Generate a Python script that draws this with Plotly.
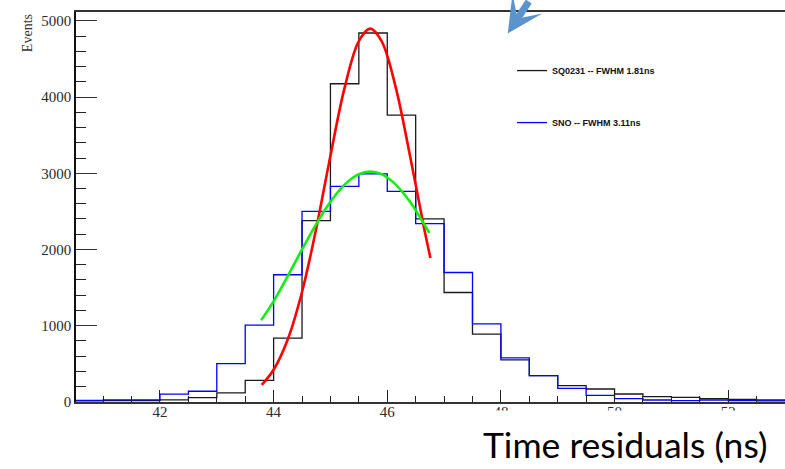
import plotly.graph_objects as go

# Histogram bins (left edges, ns), width 0.5
bin_edges = [40.5, 41.0, 41.5, 42.0, 42.5, 43.0, 43.5, 44.0, 44.5, 45.0, 45.5, 46.0, 46.5,
             47.0, 47.5, 48.0, 48.5, 49.0, 49.5, 50.0, 50.5, 51.0, 51.5, 52.0, 52.5, 53.0]
sq0231_counts = [10, 15, 15, 25, 53, 115, 281, 834, 2378, 4176, 4842, 3763, 2400,
                 1434, 887, 549, 342, 211, 167, 101, 66, 58, 40, 31, 22]
sno_counts = [18, 25, 25, 100, 137, 500, 1005, 1667, 2500, 2829, 2992, 2763, 2338,
              1697, 1022, 575, 342, 176, 84, 40, 22, 13, 22, 15, 10]

# Fit curves
red_fit_x = [43.79, 44.0, 44.25, 44.5, 44.75, 45.0, 45.25, 45.5, 45.7, 45.9, 46.15, 46.4, 46.65, 46.76]
red_fit_y = [220, 420, 821, 1441, 2276, 3231, 4125, 4736, 4900, 4736, 4125, 3231, 2276, 1886]
green_fit_x = [43.78, 44.0, 44.25, 44.5, 44.75, 45.0, 45.25, 45.5, 45.7, 45.9, 46.15, 46.4, 46.65, 46.74]
green_fit_y = [1070, 1318, 1653, 1999, 2332, 2626, 2851, 2988, 3022, 2988, 2851, 2626, 2332, 2216]

legend_names = ["SQ0231 -- FWHM 1.81ns", "SNO -- FWHM 3.11ns"]
x_tick_vals = [42, 44, 46, 48, 50, 52]
y_tick_vals = [0, 1000, 2000, 3000, 4000, 5000]

fig = go.Figure()

fig.add_trace(go.Scatter(
    x=bin_edges, y=sq0231_counts + [sq0231_counts[-1]], mode="lines",
    line=dict(color="#1a1a1a", width=1.3, shape="hv"),
    name=legend_names[0], legendgroup="a", hoverinfo="skip"))
fig.add_trace(go.Scatter(
    x=bin_edges, y=sno_counts + [sno_counts[-1]], mode="lines",
    line=dict(color="#0000ff", width=1.3, shape="hv"),
    name=legend_names[1], legendgroup="b", hoverinfo="skip"))
fig.add_trace(go.Scatter(
    x=red_fit_x, y=red_fit_y, mode="lines",
    line=dict(color="#ff0000", width=2.6, shape="spline"),
    showlegend=False))
fig.add_trace(go.Scatter(
    x=green_fit_x, y=green_fit_y, mode="lines",
    line=dict(color="#11ee11", width=2.6, shape="spline"),
    showlegend=False))

tick_font = dict(family="Liberation Serif", size=15, color="#2a2a2a")

fig.update_layout(
    width=785, height=469,
    margin=dict(l=76, r=0, t=12, b=67),
    paper_bgcolor="white", plot_bgcolor="white",
    showlegend=True,
    legend=dict(x=0.615, y=0.887, xanchor="left", yanchor="top",
                bgcolor="rgba(0,0,0,0)", borderwidth=0,
                tracegroupgap=33,
                font=dict(family="Liberation Sans", size=9, color="#111111", weight="bold")),
    xaxis=dict(range=[40.522, 53.0], showgrid=False, zeroline=False,
               showline=True, linecolor="#333333", linewidth=1.8, mirror=True,
               tickmode="array", tickvals=x_tick_vals,
               ticks="inside", ticklen=12, tickwidth=1.2, tickcolor="#222222",
               ticklabelstandoff=-5,
               minor=dict(dtick=0.5, ticks="inside", ticklen=6, tickwidth=1.2, tickcolor="#222222"),
               tickfont=tick_font),
    yaxis=dict(range=[-4, 5118], showgrid=False, zeroline=False,
               showline=True, linecolor="#111111", linewidth=1.6,
               tickmode="array", tickvals=y_tick_vals,
               ticks="inside", ticklen=21, tickwidth=1.4, tickcolor="#333333",
               minor=dict(dtick=200, ticks="inside", ticklen=10, tickwidth=1.2, tickcolor="#222222"),
               tickfont=tick_font),
)

# y-axis title (ROOT-style, at top of axis)
fig.add_annotation(text="Events", xref="paper", yref="paper",
                   x=-0.069, y=0.946, textangle=-90, showarrow=False,
                   xanchor="center", yanchor="middle",
                   font=dict(family="Liberation Serif", size=14, color="#333333"))

# x-axis title (large, slide-style, with white backing)
fig.add_annotation(text="Time residuals (ns)", xref="paper", yref="paper",
                   x=0.774, y=-0.108, showarrow=False,
                   xanchor="center", yanchor="middle",
                   bgcolor="white", borderpad=12,
                   font=dict(family="Lato", size=35.5, color="black"))

# blue pointer arrow from the slide
fig.add_annotation(text="", xref="paper", yref="paper",
                   x=0.609, y=0.945, ax=22, ay=-56,
                   showarrow=True, arrowhead=3, arrowsize=0.85, arrowwidth=7,
                   arrowcolor="#5b93cc")

fig.write_html("out.html")
